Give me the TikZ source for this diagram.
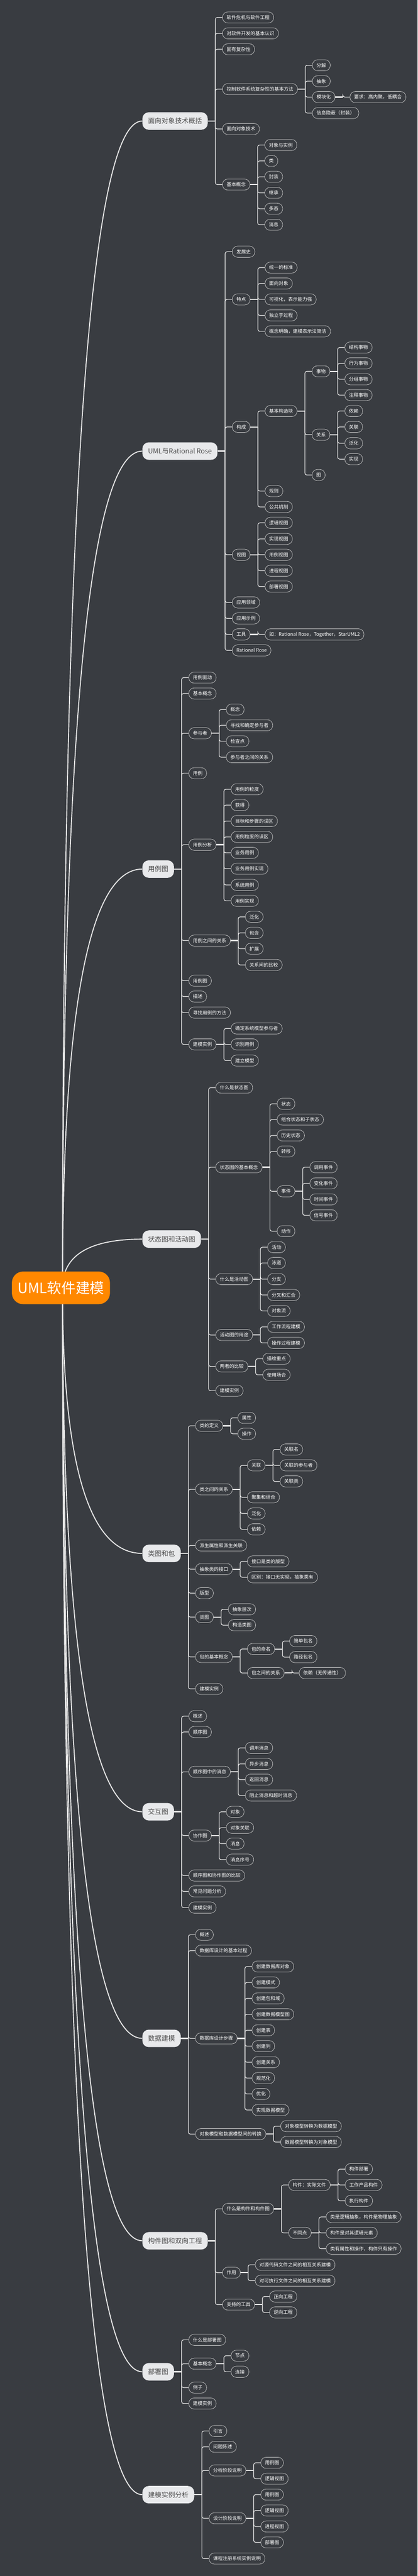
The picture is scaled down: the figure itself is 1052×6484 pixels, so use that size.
\documentclass[tikz,border=0pt]{standalone}
\usepackage{fontspec}
\newfontfamily\cjk{Noto Sans CJK SC}
\definecolor{bgc}{HTML}{393C41}
\definecolor{rootc}{HTML}{FF8800}
\definecolor{mainfill}{HTML}{E8E9EB}
\definecolor{maintext}{HTML}{4D4D4D}
\definecolor{subborder}{HTML}{C4C4C4}
\definecolor{linec}{HTML}{E6E6E6}
\pgfdeclarelayer{backlayer}
\pgfdeclarelayer{curvelayer}
\pgfsetlayers{backlayer,curvelayer,main}
\tikzset{
  rootnode/.style={fill=rootc, text=white, font=\cjk\fontsize{36pt}{40pt}\selectfont, rounded corners=28pt, minimum width=247pt, minimum height=82pt, inner sep=0pt, anchor=center},
  topicnode/.style={fill=mainfill, text=maintext, font=\cjk\fontsize{17pt}{20pt}\selectfont, rounded corners=16pt, minimum height=44pt, inner xsep=14.3pt, inner ysep=0pt, anchor=west},
  subnode/.style={draw=subborder, line width=1pt, fill=bgc, text=white, font=\cjk\fontsize{12pt}{14pt}\selectfont, rounded corners=13.5pt, minimum height=28pt, inner xsep=10.5pt, inner ysep=0pt, anchor=west},
  trunkline/.style={draw=linec, line width=3pt},
  linkline/.style={draw=linec, line width=1.6pt, rounded corners=5pt},
  maincurve/.style={draw=linec, line width=2.5pt},
}
\newcommand\kid[4]{%
  \coordinate (tx) at ([xshift=36.5pt]#2.east);
  \coordinate (ty) at (0,#3);
  \node[subnode] (#1) at (tx |- ty) {#4};
  \draw[trunkline] (#2.east) -- ([xshift=19pt]#2.east);
  \draw[linkline] ([xshift=19pt]#2.east) |- (#1.west);
}
\newcommand\mcurve[2]{%
  \draw[maincurve] ([xshift=4pt]root.center) .. controls (157.5,{3241.6+2/3*(#2-3241.6)}) and (224.5,#2) .. (#1.west);
}
\begin{document}
\begin{tikzpicture}[x=1pt,y=-1pt]
\useasboundingbox (0,0) rectangle (1052,6484);
\begin{pgfonlayer}{backlayer}
\fill[bgc] (0,0) rectangle (1052,6484);
\end{pgfonlayer}

% root and main topics
\node[rootnode] (root) at (153.5,3241.6) {UML软件建模};
\node[topicnode] (A) at (358.5,304.6) {面向对象技术概括};
\node[topicnode] (B) at (358.5,1135.4) {UML与Rational Rose};
\node[topicnode] (C) at (358.5,2187.5) {用例图};
\node[topicnode] (D) at (358.5,3119) {状态图和活动图};
\node[topicnode] (E) at (358.5,3910) {类图和包};
\node[topicnode] (F) at (358.5,4560.3) {交互图};
\node[topicnode] (G) at (358.5,5130.7) {数据建模};
\node[topicnode] (H) at (358.5,5640.2) {构件图和双向工程};
\node[topicnode] (I) at (358.5,5969.9) {部署图};
\node[topicnode] (J) at (358.5,6279.3) {建模实例分析};

\begin{pgfonlayer}{curvelayer}
\mcurve{A}{304.6}
\mcurve{B}{1135.4}
\mcurve{C}{2187.5}
\mcurve{D}{3119}
\mcurve{E}{3910}
\mcurve{F}{4560.3}
\mcurve{G}{5130.7}
\mcurve{H}{5640.2}
\mcurve{I}{5969.9}
\mcurve{J}{6279.3}
\end{pgfonlayer}

% ---- A
\kid{a1}{A}{43.9}{软件危机与软件工程}
\kid{a2}{A}{83.9}{对软件开发的基本认识}
\kid{a3}{A}{123.9}{固有复杂性}
\kid{a4}{A}{224.3}{控制软件系统复杂性的基本方法}
\kid{a5}{A}{324.6}{面向对象技术}
\kid{a6}{A}{464.6}{基本概念}
\kid{a41}{a4}{164.3}{分解}
\kid{a42}{a4}{204.3}{抽象}
\kid{a43}{a4}{244.3}{模块化}
\kid{a44}{a4}{284.6}{信息隐蔽（封装）}
\kid{a431}{a43}{244.3}{要求：高内聚，低耦合}
\kid{a61}{a6}{365}{对象与实例}
\kid{a62}{a6}{405}{类}
\kid{a63}{a6}{445}{封装}
\kid{a64}{a6}{485.4}{继承}
\kid{a65}{a6}{525.4}{多态}
\kid{a66}{a6}{565.7}{消息}

% ---- B
\kid{b1}{B}{633.6}{发展史}
\kid{b2}{B}{753.6}{特点}
\kid{b3}{B}{1074.6}{构成}
\kid{b4}{B}{1396.4}{视图}
\kid{b5}{B}{1516.4}{应用领域}
\kid{b6}{B}{1556.6}{应用示例}
\kid{b7}{B}{1596.8}{工具}
\kid{b8}{B}{1637}{Rational Rose}
\kid{b21}{b2}{673.6}{统一的标准}
\kid{b22}{b2}{713.6}{面向对象}
\kid{b23}{b2}{753.6}{可视化，表示能力强}
\kid{b24}{b2}{794}{独立于过程}
\kid{b25}{b2}{834}{概念明确，建模表示法简洁}
\kid{b31}{b3}{1034.6}{基本构造块}
\kid{b32}{b3}{1236}{规则}
\kid{b33}{b3}{1276}{公共机制}
\kid{b311}{b31}{934.6}{事物}
\kid{b312}{b31}{1094.3}{关系}
\kid{b313}{b31}{1195.7}{图}
\kid{b3111}{b311}{874.6}{结构事物}
\kid{b3112}{b311}{914.6}{行为事物}
\kid{b3113}{b311}{954.6}{分组事物}
\kid{b3114}{b311}{994.6}{注释事物}
\kid{b3121}{b312}{1034.6}{依赖}
\kid{b3122}{b312}{1074.6}{关联}
\kid{b3123}{b312}{1115.7}{泛化}
\kid{b3124}{b312}{1155.7}{实现}
\kid{b41}{b4}{1316}{逻辑视图}
\kid{b42}{b4}{1356.4}{实现视图}
\kid{b43}{b4}{1396.4}{用例视图}
\kid{b44}{b4}{1436.4}{进程视图}
\kid{b45}{b4}{1476.4}{部署视图}
\kid{b71}{b7}{1596.8}{如：Rational Rose，Together，StarUML2}

% ---- C
\kid{c1}{C}{1705.6}{用例驱动}
\kid{c2}{C}{1745.6}{基本概念}
\kid{c3}{C}{1845.6}{参与者}
\kid{c4}{C}{1946.3}{用例}
\kid{c5}{C}{2126.2}{用例分析}
\kid{c6}{C}{2367.4}{用例之间的关系}
\kid{c7}{C}{2468.5}{用例图}
\kid{c8}{C}{2508.4}{描述}
\kid{c9}{C}{2548.8}{寻找用例的方法}
\kid{c10}{C}{2628.8}{建模实例}
\kid{c31}{c3}{1786}{概念}
\kid{c32}{c3}{1825.6}{寻找和确定参与者}
\kid{c33}{c3}{1865.9}{检查点}
\kid{c34}{c3}{1905.9}{参与者之间的关系}
\kid{c51}{c5}{1986.6}{用例的粒度}
\kid{c52}{c5}{2026.6}{获得}
\kid{c53}{c5}{2066.6}{目标和步骤的误区}
\kid{c54}{c5}{2106.6}{用例粒度的误区}
\kid{c55}{c5}{2146.6}{业务用例}
\kid{c56}{c5}{2186.5}{业务用例实现}
\kid{c57}{c5}{2227.4}{系统用例}
\kid{c58}{c5}{2267.4}{用例实现}
\kid{c61}{c6}{2307.8}{泛化}
\kid{c62}{c6}{2348.1}{包含}
\kid{c63}{c6}{2388.1}{扩展}
\kid{c64}{c6}{2428.8}{关系间的比较}
\kid{c101}{c10}{2588.8}{确定系统模型参与者}
\kid{c102}{c10}{2628.8}{识别用例}
\kid{c103}{c10}{2669.5}{建立模型}

% ---- D
\kid{d1}{D}{2737.8}{什么是状态图}
\kid{d2}{D}{2937.9}{状态图的基本概念}
\kid{d3}{D}{3219.7}{什么是活动图}
\kid{d4}{D}{3360.2}{活动图的用途}
\kid{d5}{D}{3439.4}{两者的比较}
\kid{d6}{D}{3500.5}{建模实例}
\kid{d21}{d2}{2778.4}{状态}
\kid{d22}{d2}{2818}{组合状态和子状态}
\kid{d23}{d2}{2858}{历史状态}
\kid{d24}{d2}{2898.3}{转移}
\kid{d25}{d2}{2998.6}{事件}
\kid{d26}{d2}{3099}{动作}
\kid{d251}{d25}{2937.9}{调用事件}
\kid{d252}{d25}{2978.6}{变化事件}
\kid{d253}{d25}{3019}{时间事件}
\kid{d254}{d25}{3059}{信号事件}
\kid{d31}{d3}{3139.3}{活动}
\kid{d32}{d3}{3178.9}{泳道}
\kid{d33}{d3}{3219.7}{分支}
\kid{d34}{d3}{3259.6}{分叉和汇合}
\kid{d35}{d3}{3299.6}{对象流}
\kid{d41}{d4}{3339.8}{工作流程建模}
\kid{d42}{d4}{3380.2}{操作过程建模}
\kid{d51}{d5}{3420.1}{描绘重点}
\kid{d52}{d5}{3460.5}{使用场合}

% ---- E
\kid{e1}{E}{3588.8}{类的定义}
\kid{e2}{E}{3748.8}{类之间的关系}
\kid{e3}{E}{3890}{派生属性和派生关联}
\kid{e4}{E}{3949.6}{抽象类的接口}
\kid{e5}{E}{4010}{版型}
\kid{e6}{E}{4070.3}{类图}
\kid{e7}{E}{4170.6}{包的基本概念}
\kid{e8}{E}{4251}{建模实例}
\kid{e11}{e1}{3568.8}{属性}
\kid{e12}{e1}{3608.8}{操作}
\kid{e21}{e2}{3688.4}{关联}
\kid{e22}{e2}{3768.7}{聚集和组合}
\kid{e23}{e2}{3809.4}{泛化}
\kid{e24}{e2}{3849.4}{依赖}
\kid{e211}{e21}{3648.4}{关联名}
\kid{e212}{e21}{3688.4}{关联的参与者}
\kid{e213}{e21}{3728.8}{关联类}
\kid{e41}{e4}{3930}{接口是类的版型}
\kid{e42}{e4}{3970}{区别：接口无实现，抽象类有}
\kid{e61}{e6}{4050.7}{抽象层次}
\kid{e62}{e6}{4090.6}{构造类图}
\kid{e71}{e7}{4150.6}{包的命名}
\kid{e72}{e7}{4211}{包之间的关系}
\kid{e711}{e71}{4130.6}{简单包名}
\kid{e712}{e71}{4171}{路径包名}
\kid{e721}{e72}{4211}{依赖（无传递性）}

% ---- F
\kid{f1}{F}{4319.7}{概述}
\kid{f2}{F}{4359.6}{顺序图}
\kid{f3}{F}{4459.8}{顺序图中的消息}
\kid{f4}{F}{4620.1}{协作图}
\kid{f5}{F}{4720.8}{顺序图和协作图的比较}
\kid{f6}{F}{4760.8}{常见问题分析}
\kid{f7}{F}{4801.5}{建模实例}
\kid{f31}{f3}{4399.6}{调用消息}
\kid{f32}{f3}{4439.8}{异步消息}
\kid{f33}{f3}{4479.4}{返回消息}
\kid{f34}{f3}{4519.4}{阻止消息和超时消息}
\kid{f41}{f4}{4560.5}{对象}
\kid{f42}{f4}{4600.5}{对象关联}
\kid{f43}{f4}{4640.5}{消息}
\kid{f44}{f4}{4680.8}{消息序号}

% ---- G
\kid{g1}{G}{4869.9}{概述}
\kid{g2}{G}{4909.8}{数据库设计的基本过程}
\kid{g3}{G}{5130.7}{数据库设计步骤}
\kid{g4}{G}{5371.7}{对象模型和数据模型间的转换}
\kid{g31}{g3}{4949.8}{创建数据库对象}
\kid{g32}{g3}{4989.8}{创建模式}
\kid{g33}{g3}{5030}{创建包和域}
\kid{g34}{g3}{5070}{创建数据模型图}
\kid{g35}{g3}{5110.3}{创建表}
\kid{g36}{g3}{5150.3}{创建列}
\kid{g37}{g3}{5190.7}{创建关系}
\kid{g38}{g3}{5230.6}{规范化}
\kid{g39}{g3}{5270.6}{优化}
\kid{g310}{g3}{5311}{实现数据模型}
\kid{g41}{g4}{5351.7}{对象模型转换为数据模型}
\kid{g42}{g4}{5391.7}{数据模型转换为对象模型}

% ---- H
\kid{h1}{H}{5559.8}{什么是构件和构件图}
\kid{h2}{H}{5720.5}{作用}
\kid{h3}{H}{5800.8}{支持的工具}
\kid{h11}{h1}{5499.6}{构件：实际文件}
\kid{h12}{h1}{5620.2}{不同点}
\kid{h111}{h11}{5459.7}{构件部署}
\kid{h112}{h11}{5499.6}{工作产品构件}
\kid{h113}{h11}{5539.6}{执行构件}
\kid{h121}{h12}{5580.2}{类是逻辑抽象，构件是物理抽象}
\kid{h122}{h12}{5620.2}{构件是对其逻辑元素}
\kid{h123}{h12}{5660.1}{类有属性和操作，构件只有操作}
\kid{h21}{h2}{5700.5}{对源代码文件之间的相互关系建模}
\kid{h22}{h2}{5740.5}{对可执行文件之间的相互关系建模}
\kid{h31}{h3}{5780.5}{正向工程}
\kid{h32}{h3}{5820.5}{逆向工程}

% ---- I
\kid{i1}{I}{5889.5}{什么是部署图}
\kid{i2}{I}{5949.5}{基本概念}
\kid{i3}{I}{6009.8}{例子}
\kid{i4}{I}{6049.8}{建模实例}
\kid{i21}{i2}{5929.5}{节点}
\kid{i22}{i2}{5969.9}{连接}

% ---- J
\kid{j1}{J}{6119}{引言}
\kid{j2}{J}{6158.7}{问题陈述}
\kid{j3}{J}{6218.3}{分析阶段说明}
\kid{j4}{J}{6338.7}{设计阶段说明}
\kid{j5}{J}{6440}{课程注册系统实例说明}
\kid{j31}{j3}{6199}{用例图}
\kid{j32}{j3}{6239}{逻辑视图}
\kid{j41}{j4}{6279}{用例图}
\kid{j42}{j4}{6319}{逻辑视图}
\kid{j43}{j4}{6359.3}{进程视图}
\kid{j44}{j4}{6399.3}{部署图}
\end{tikzpicture}
\end{document}
